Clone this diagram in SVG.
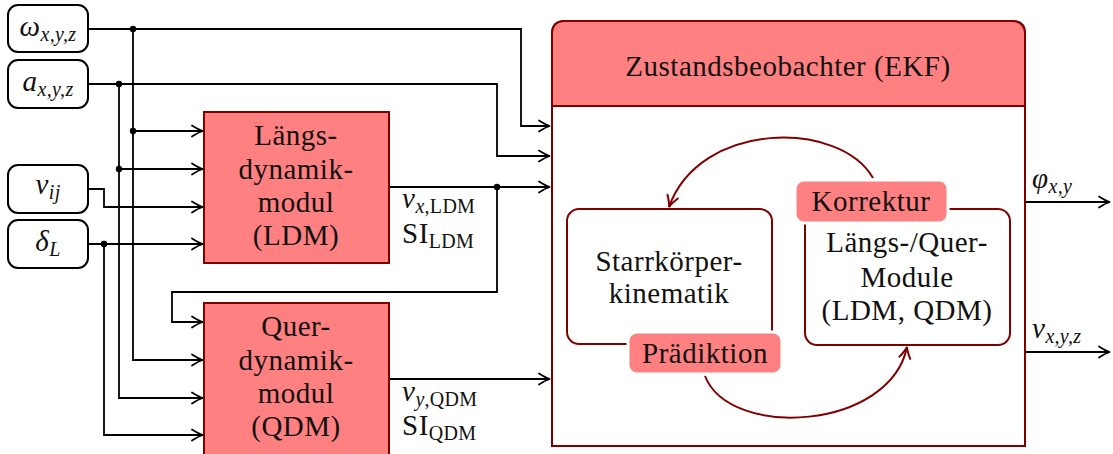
<svg xmlns="http://www.w3.org/2000/svg" width="1113" height="454" viewBox="0 0 1113 454">
<style>
.ln{stroke:#000;stroke-width:1.8;fill:none}
.rl{stroke:#800000;stroke-width:2;fill:none}
.in{fill:#fff;stroke:#000;stroke-width:2}
.mod{fill:#ff8080;stroke:#800000;stroke-width:2}
text{font-family:'Liberation Serif',serif}
.t{font-size:29px;letter-spacing:0.5px;fill:#111}
.c{text-anchor:middle}
.m{font-style:italic}
.s{font-size:20px;letter-spacing:0.3px}
.lab{fill:#ff8080;stroke:#fff;stroke-width:3}
</style>
<defs>
<marker id="ar" viewBox="-13 -7 15 14" markerWidth="15" markerHeight="14" refX="0" refY="0" orient="auto" markerUnits="userSpaceOnUse">
<path d="M -11 -5.5 Q -4 -1 0 0 Q -4 1 -11 5.5" fill="none" stroke="#000" stroke-width="1.8" stroke-linecap="round"/>
</marker>
<marker id="arr" viewBox="-13 -7 15 14" markerWidth="15" markerHeight="14" refX="0" refY="0" orient="auto" markerUnits="userSpaceOnUse">
<path d="M -11 -5.5 Q -4 -1 0 0 Q -4 1 -11 5.5" fill="none" stroke="#800000" stroke-width="2" stroke-linecap="round"/>
</marker>
</defs>

<g id="connectors">
<path class="ln" d="M 88 29 H 521 V 126 H 550" marker-end="url(#ar)"/>
<path class="ln" d="M 133 29 V 360 H 203" marker-end="url(#ar)"/>
<path class="ln" d="M 133 131 H 203" marker-end="url(#ar)"/>
<path class="ln" d="M 88 84 H 497 V 156 H 550" marker-end="url(#ar)"/>
<path class="ln" d="M 119 84 V 398 H 203" marker-end="url(#ar)"/>
<path class="ln" d="M 119 169 H 203" marker-end="url(#ar)"/>
<path class="ln" d="M 88 189 H 104 V 207 H 203" marker-end="url(#ar)"/>
<path class="ln" d="M 88 244 H 203" marker-end="url(#ar)"/>
<path class="ln" d="M 104 244 V 435 H 203" marker-end="url(#ar)"/>
<path class="ln" d="M 389 187 H 550" marker-end="url(#ar)"/>
<path class="ln" d="M 497 187 V 292 H 172 V 322 H 203" marker-end="url(#ar)"/>
<path class="ln" d="M 390 379 H 550" marker-end="url(#ar)"/>
<path class="ln" d="M 1025 202 H 1110" marker-end="url(#ar)"/>
<path class="ln" d="M 1025 352 H 1110" marker-end="url(#ar)"/>
<g fill="#000">
<circle cx="133" cy="29" r="3.2"/>
<circle cx="133" cy="131" r="3.2"/>
<circle cx="119" cy="84" r="3.2"/>
<circle cx="119" cy="169" r="3.2"/>
<circle cx="104" cy="244" r="3.2"/>
<circle cx="497" cy="187" r="3.2"/>
</g>
<text class="t" font-family="Liberation Serif" x="402" y="208"><tspan class="m">v</tspan><tspan class="s" dy="5"><tspan class="m">x</tspan>,LDM</tspan></text>
<text class="t" font-family="Liberation Serif" x="402" y="243">SI<tspan class="s" dy="5">LDM</tspan></text>
<text class="t" font-family="Liberation Serif" x="402" y="401"><tspan class="m">v</tspan><tspan class="s" dy="5"><tspan class="m">y</tspan>,QDM</tspan></text>
<text class="t" font-family="Liberation Serif" x="402" y="435">SI<tspan class="s" dy="5">QDM</tspan></text>
<text class="t" font-family="Liberation Serif" x="1032" y="188"><tspan class="m">φ</tspan><tspan class="s m" dy="5">x,y</tspan></text>
<text class="t" font-family="Liberation Serif" x="1032" y="338"><tspan class="m">v</tspan><tspan class="s m" dy="5">x,y,z</tspan></text>
</g>

<g id="omega">
<rect class="in" x="8" y="5" width="80" height="47" rx="10"/>
<text class="t c" font-family="Liberation Serif" x="48" y="36"><tspan class="m">ω</tspan><tspan class="s m" dy="5">x,y,z</tspan></text>
</g>
<g id="a">
<rect class="in" x="8" y="60" width="80" height="48" rx="10"/>
<text class="t c" font-family="Liberation Serif" x="48" y="91"><tspan class="m">a</tspan><tspan class="s m" dy="5">x,y,z</tspan></text>
</g>
<g id="vij">
<rect class="in" x="8" y="165" width="80" height="48" rx="10"/>
<text class="t c" font-family="Liberation Serif" x="48" y="194"><tspan class="m">v</tspan><tspan class="s m" dy="5">ij</tspan></text>
</g>
<g id="deltaL">
<rect class="in" x="8" y="220" width="80" height="48" rx="10"/>
<text class="t c" font-family="Liberation Serif" x="48" y="251"><tspan class="m">δ</tspan><tspan class="s m" dy="5">L</tspan></text>
</g>

<g id="LDM">
<rect class="mod" x="204" y="112" width="185" height="151"/>
<text class="t c" font-family="Liberation Serif" x="296" y="145">Längs-</text>
<text class="t c" font-family="Liberation Serif" x="296" y="179">dynamik-</text>
<text class="t c" font-family="Liberation Serif" x="296" y="212">modul</text>
<text class="t c" font-family="Liberation Serif" x="296" y="245">(LDM)</text>
</g>
<g id="QDM">
<rect class="mod" x="204" y="303" width="185" height="155"/>
<text class="t c" font-family="Liberation Serif" x="296" y="336">Quer-</text>
<text class="t c" font-family="Liberation Serif" x="296" y="370">dynamik-</text>
<text class="t c" font-family="Liberation Serif" x="296" y="403">modul</text>
<text class="t c" font-family="Liberation Serif" x="296" y="436">(QDM)</text>
</g>

<g id="EKF">
<path d="M 552 446 V 34 Q 552 21 565 21 H 1012 Q 1025 21 1025 34 V 446 Z" fill="#fff" stroke="#800000" stroke-width="2"/>
<path d="M 552 106 V 34 Q 552 21 565 21 H 1012 Q 1025 21 1025 34 V 106 Z" fill="#ff8080" stroke="#800000" stroke-width="2"/>
<text class="t c" font-family="Liberation Serif" x="788" y="76">Zustandsbeobachter (EKF)</text>
</g>

<g id="starr">
<rect x="567" y="209" width="205" height="135" rx="12" fill="#fff" stroke="#800000" stroke-width="2"/>
<text class="t c" font-family="Liberation Serif" x="669" y="271">Starrkörper-</text>
<text class="t c" font-family="Liberation Serif" x="669" y="303">kinematik</text>
</g>
<g id="module">
<rect x="805" y="209" width="205" height="136" rx="12" fill="#fff" stroke="#800000" stroke-width="2"/>
<text class="t c" font-family="Liberation Serif" x="907" y="252">Längs-/Quer-</text>
<text class="t c" font-family="Liberation Serif" x="907" y="287">Module</text>
<text class="t c" font-family="Liberation Serif" x="907" y="320">(LDM, QDM)</text>
</g>
<g id="praediktion">
<rect class="lab" x="628" y="332" width="154" height="42" rx="9"/>
<text class="t c" font-family="Liberation Serif" x="705" y="363">Prädiktion</text>
</g>
<g id="korrektur">
<rect class="lab" x="795" y="180" width="153" height="43" rx="9"/>
<text class="t c" font-family="Liberation Serif" x="871" y="211">Korrektur</text>
</g>
<g id="loop">
<path class="rl" d="M 873 178 C 840 120 700 120 669 207" marker-end="url(#arr)"/>
<path class="rl" d="M 705 376 C 730 440 890 430 907 347" marker-end="url(#arr)"/>
</g>
</svg>
